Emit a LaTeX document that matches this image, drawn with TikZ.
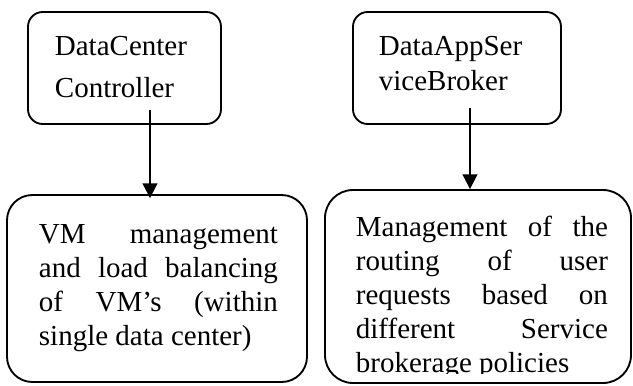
\documentclass[tikz,border=0pt]{standalone}
\usepackage{fontspec}
\setmainfont{Liberation Serif}
\usetikzlibrary{arrows.meta}

\begin{document}
\begin{tikzpicture}[x=0.75pt, y=-0.75pt, line width=1.4pt,
  font=\fontsize{21.75pt}{25.5pt}\selectfont, >={Triangle[length=11pt, width=11pt]},
  panel/.style={draw, rounded corners=#1, inner sep=0pt}, panel/.default=11pt,
  txt/.style={inner sep=0pt, anchor=base west, align=left}]
\useasboundingbox (0,0) rectangle (633,386);
% upper boxes (text placed by its last baseline)
\node[panel, minimum width=144.75pt, minimum height=84pt] (dcc) at (124.5,68) {};
\node[txt] (dcctext) at (54,97) {DataCenter\\[6pt]Controller};
\node[panel, minimum width=156pt, minimum height=84pt] (dasb) at (457,68) {};
\node[txt] (dasbtext) at (378,90) {DataAppSer\\[0.75pt]viceBroker};
% lower boxes
\node[panel=19pt, minimum width=225pt, minimum height=140.25pt] (vmm) at (157,288.5) {};
\node[txt] (vmmtext) at (38,345) {\makebox[179.25pt][s]{VM management}\\
  \makebox[179.25pt][s]{and load balancing}\\
  \makebox[179.25pt][s]{of VM's (within}\\
  single data center)};
\node[panel=21pt, minimum width=229.5pt, minimum height=144.75pt] (route) at (478,286.5) {};
\begin{scope}
\clip (325,190) rectangle (633,373.5);
\node[txt] (routetext) at (355,372) {\makebox[189pt][s]{Management of the}\\
  \makebox[189pt][s]{routing of user}\\
  \makebox[189pt][s]{requests based on}\\
  \makebox[189pt][s]{different Service}\\
  brokerage policies};
\end{scope}
% arrows
\coordinate (c1) at (150,110);
\coordinate (c2) at (470,108);
\draw[->, shorten >=-3pt] (c1) -- (c1 |- vmm.north);
\draw[->] (c2) -- (c2 |- route.north);
\end{tikzpicture}
\end{document}
